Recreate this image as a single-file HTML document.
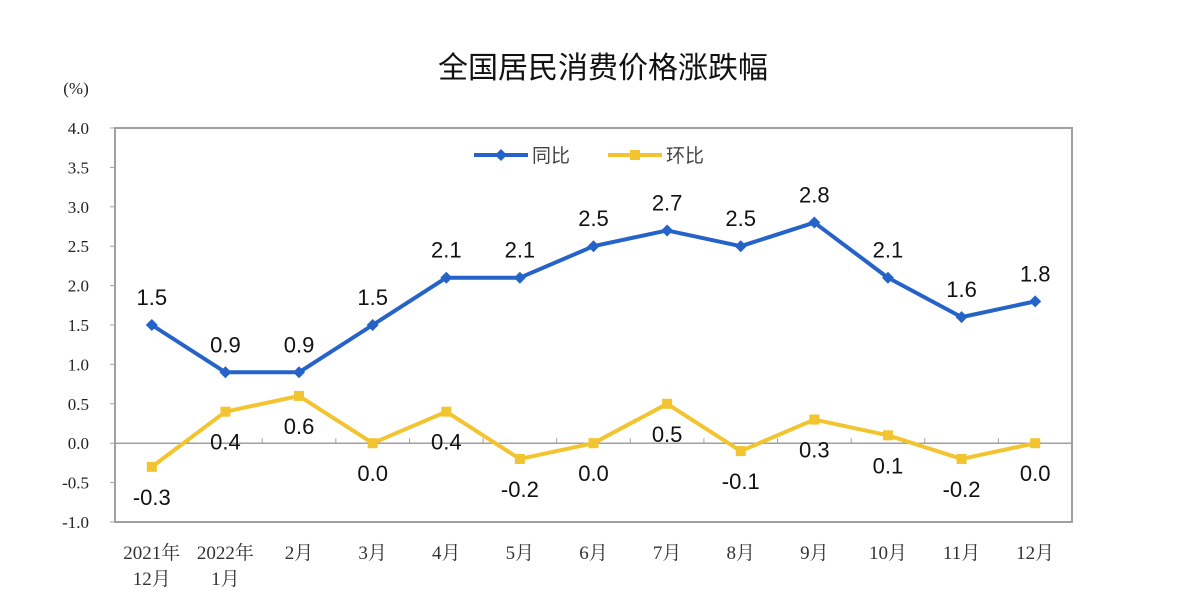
<!DOCTYPE html>
<html><head><meta charset="utf-8"><style>
body{margin:0;background:#fff;}
</style></head><body>
<svg id="c" width="1182" height="588" xmlns="http://www.w3.org/2000/svg">
<text x="603" y="78" font-size="30" text-anchor="middle" fill="#111" style="font-family:'Liberation Sans','Noto Sans CJK SC',sans-serif">全国居民消费价格涨跌幅</text>
<text x="76" y="94" font-size="17" text-anchor="middle" fill="#222" style="font-family:'Liberation Serif',serif">(%)</text>
<rect x="115" y="128" width="957" height="394" fill="none" stroke="#a0a0a0" stroke-width="2"/>
<g id="g"></g>
</svg>
<script>
const categories=["2021年|12月","2022年|1月","2月","3月","4月","5月","6月","7月","8月","9月","10月","11月","12月"];
const yoy=[1.5,0.9,0.9,1.5,2.1,2.1,2.5,2.7,2.5,2.8,2.1,1.6,1.8];
const mom=[-0.3,0.4,0.6,0.0,0.4,-0.2,0.0,0.5,-0.1,0.3,0.1,-0.2,0.0];
const yTicks=[4.0,3.5,3.0,2.5,2.0,1.5,1.0,0.5,0.0,-0.5,-1.0];
const X0=115,X1=1072,Y0=128,Y1=522,ymin=-1,ymax=4;
const bw=(X1-X0)/categories.length;
const xs=i=>X0+bw*(i+0.5);
const ys=v=>Y1-(v-ymin)/(ymax-ymin)*(Y1-Y0);
const NS="http://www.w3.org/2000/svg",g=document.getElementById('g');
const SERIF="font-family:'Liberation Serif','Noto Serif CJK SC',serif";
const SANS="font-family:'Liberation Sans','Noto Sans CJK SC',sans-serif";
function mk(t,a,txt){const e=document.createElementNS(NS,t);for(const k in a)e.setAttribute(k,a[k]);if(txt!==undefined)e.textContent=txt;g.appendChild(e);return e;}
yTicks.forEach(v=>{
 const t=mk('text',{x:89,y:ys(v)+6,'font-size':17,'text-anchor':'end',fill:'#222',style:SERIF},v.toFixed(1));
 
 
 const l=mk('line',{x1:110,x2:115,y1:ys(v),y2:ys(v),stroke:'#a0a0a0'});
 
 
});
const z=mk('line',{x1:X0,x2:X1,y1:ys(0),y2:ys(0),stroke:'#a0a0a0','stroke-width':1.5});


for(let i=1;i<categories.length;i++){
 const l=mk('line',{x1:X0+bw*i,x2:X0+bw*i,y1:ys(0),y2:ys(0)-5,stroke:'#a0a0a0'});
 
 
}
categories.forEach((c,i)=>{
 c.split('|').forEach((p,j)=>{
  const t=mk('text',{x:xs(i),y:559+j*26,'font-size':19,'text-anchor':'middle',fill:'#333',style:SERIF},p);
  
  
 });
});
function series(arr,color,name,diamond,dy){
 const pl=mk('polyline',{points:arr.map((v,i)=>xs(i)+','+ys(v)).join(' '),fill:'none',stroke:color,'stroke-width':4,'stroke-linejoin':'round'});
 
 
 arr.forEach((v,i)=>{
  const x=xs(i),y=ys(v);
  const m=diamond?mk('polygon',{points:`${x},${y-6} ${x+6},${y} ${x},${y+6} ${x-6},${y}`,fill:color}):mk('rect',{x:x-5,y:y-5,width:10,height:10,fill:color});
  
  
  const t=mk('text',{x:x,y:y+dy,'font-size':22,'text-anchor':'middle',fill:'#111',style:SANS},v.toFixed(1));
  
  
 });
}
series(mom,'#f2c42f','mom',false,38);
series(yoy,'#2563c9','yoy',true,-20);
const L=[['同比','#2563c9',true,474],['环比','#f2c42f',false,608]];
L.forEach(([n,c,d,x])=>{
 const l=mk('line',{x1:x,x2:x+54,y1:155,y2:155,stroke:c,'stroke-width':4});
 
 
 const m=d?mk('polygon',{points:`${x+27},${149} ${x+33},155 ${x+27},161 ${x+21},155`,fill:c}):mk('rect',{x:x+22,y:150,width:10,height:10,fill:c});
 
 
 const t=mk('text',{x:x+58,y:162,'font-size':19,fill:'#444',style:SANS},n);
 
 
});
</script>
</body></html>
